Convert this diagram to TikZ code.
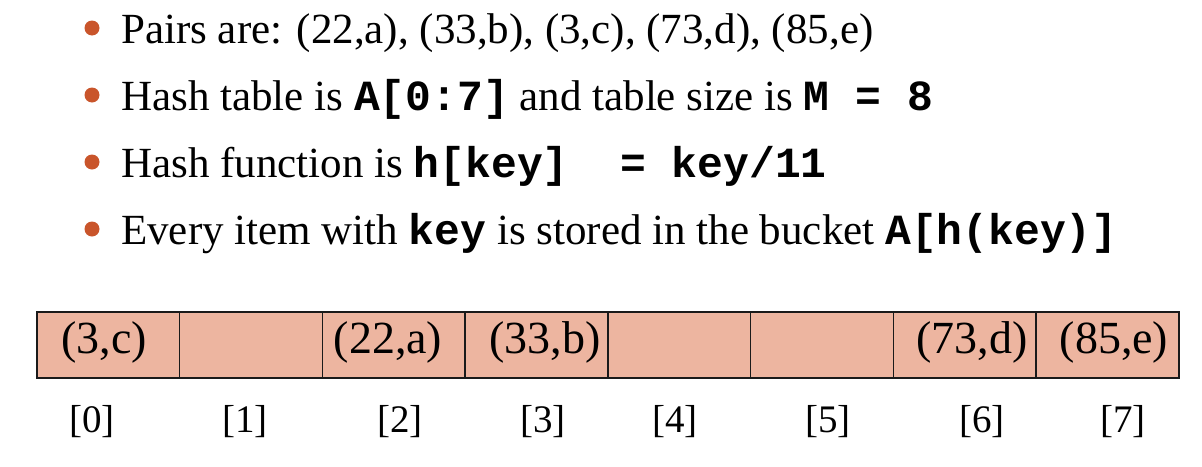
\documentclass[tikz,border=0pt]{standalone}
\usepackage{fontspec}
\setmainfont{Liberation Serif}
\setmonofont{Liberation Mono}
\definecolor{cellfill}{HTML}{EDB5A0}
\definecolor{bulletc}{HTML}{C9552B}
\definecolor{edgec}{HTML}{1A1A1A}
\begin{document}
\begin{tikzpicture}[x=1pt,y=-1pt,
  line/.style={anchor=base west,inner sep=0pt,font=\fontsize{43}{50}\selectfont},
  bul/.style={circle,fill=bulletc,inner sep=0pt,minimum size=15pt},
  cell/.style={draw=edgec,line width=1.6pt,fill=cellfill,minimum width=142.75pt,minimum height=66pt,inner sep=0pt,anchor=north west},
  val/.style={anchor=base,inner sep=0pt,font=\fontsize{46}{52}\selectfont},
  idx/.style={anchor=base,inner sep=0pt,font=\fontsize{39}{45}\selectfont}]
\useasboundingbox (0,0) rectangle (1202,466);
% bullets and lines
\node[bul] (b1) at (92,28) {};
\node[bul] (b2) at (92,95) {};
\node[bul] (b3) at (92,162) {};
\node[bul] (b4) at (92,229) {};
\node[line] (l1) at (121,43) {Pairs are: (22,a), (33,b), (3,c), (73,d), (85,e)};
\node[line] (l2) at (121,110) {Hash table is \textbf{\texttt{A[0:7]}} and table size is \textbf{\texttt{M = 8}}};
\node[line] (l3) at (121,177) {Hash function is \textbf{\texttt{h[key]~~= key/11}}};
\node[line] (l4) at (121,244) {Every item with \textbf{\texttt{key}} is stored in the bucket \textbf{\texttt{A[h(key)]}}};
% table cells
\foreach \i in {0,...,7}{
  \node[cell] (c\i) at ({36+\i*142.75},311) {};
}
% values
\node[val] (v0) at (104,353) {(3,c)};
\node[val] (v2) at (388,353) {(22,a)};
\node[val] (v3) at (545,353) {(33,b)};
\node[val] (v6) at (972,353) {(73,d)};
\node[val] (v7) at (1114,353) {(85,e)};
% indices
\node[idx] (i0) at (92,432) {[0]};
\node[idx] (i1) at (245,432) {[1]};
\node[idx] (i2) at (400,432) {[2]};
\node[idx] (i3) at (543,432) {[3]};
\node[idx] (i4) at (675,432) {[4]};
\node[idx] (i5) at (828,432) {[5]};
\node[idx] (i6) at (982,432) {[6]};
\node[idx] (i7) at (1123,432) {[7]};
\end{tikzpicture}
\end{document}
